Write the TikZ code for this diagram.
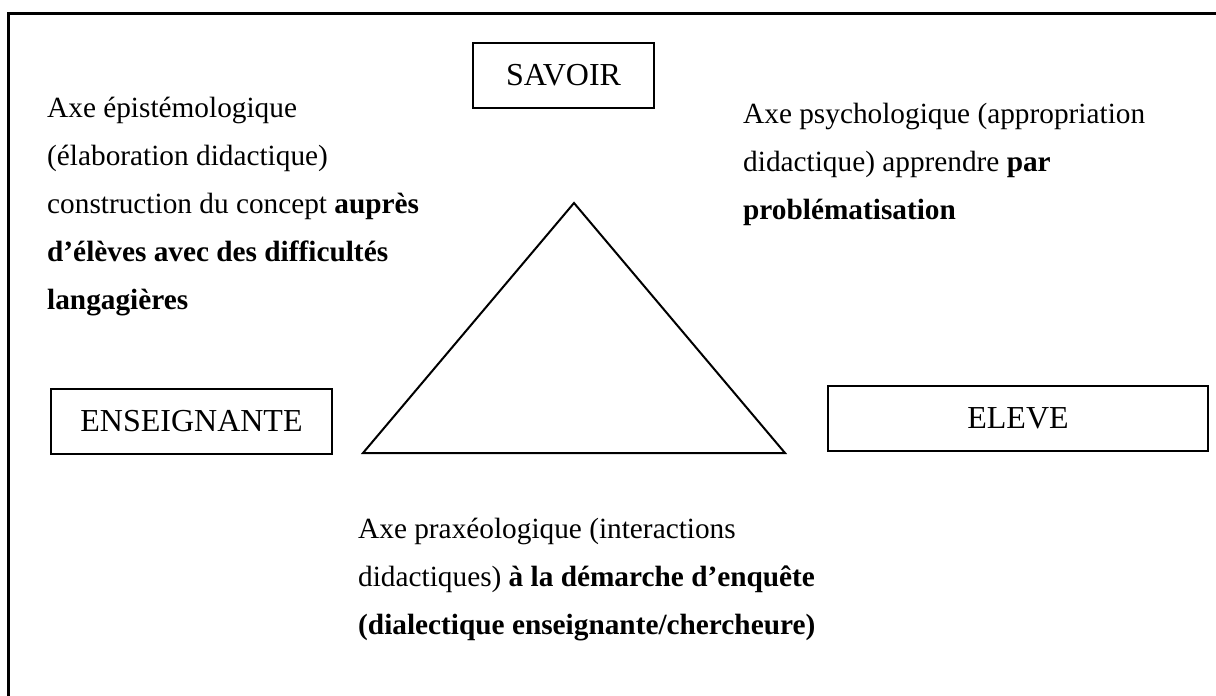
\documentclass[tikz,border=0pt]{standalone}
\usepackage{fontspec}
\setmainfont{Liberation Serif}
\usetikzlibrary{positioning}

\begin{document}
\begin{tikzpicture}[
    x=1pt, y=-1pt,
    pole/.style={draw, rectangle, line width=2pt, inner sep=0pt, font=\fontsize{32}{48}\selectfont},
    axis/.style={anchor=base west, align=left, inner sep=0pt, font=\fontsize{29.3}{48}\selectfont},
    side/.style={line width=2pt, line join=miter}
]
\useasboundingbox (0,0) rectangle (1216,696);

%-------------------------------------------------
% Frame
%-------------------------------------------------
\coordinate (frameBL) at (8.5,696);
\coordinate (frameTL) at (8.5,13);
\coordinate (frameTR) at (1216,13);
\draw[line width=3pt] (frameBL) -- (frameTL) -- (frameTR);

%-------------------------------------------------
% Poles
%-------------------------------------------------
\node[pole, minimum width=181, minimum height=65] (savoir)      at (563.5,75.5)  {SAVOIR};
\node[pole, minimum width=281, minimum height=65] (enseignante) at (191.5,421.5) {ENSEIGNANTE};
\node[pole, minimum width=380, minimum height=65] (eleve)       at (1018,418.5)  {ELEVE};

%-------------------------------------------------
% Triangle
%-------------------------------------------------
\coordinate (apex)  at (574,203);
\coordinate (baseL) at (363,453);
\coordinate (baseR) at (785,453);
\draw[side] (apex) -- (baseL) -- (baseR) -- cycle;

%-------------------------------------------------
% Axes (base = last line)
%-------------------------------------------------
\node[axis] (episteme) at (47,309)
{Axe épistémologique\\
(élaboration didactique)\\
construction du concept \textbf{auprès}\\
\textbf{d’élèves avec des difficultés}\\
\textbf{langagières}};

\node[axis] (psycho) at (743,219)
{Axe psychologique (appropriation\\
didactique) apprendre \textbf{par}\\
\textbf{problématisation}};

\node[axis] (praxis) at (358,634)
{Axe praxéologique (interactions\\
didactiques) \textbf{à la démarche d’enquête}\\
\textbf{(dialectique enseignante/chercheure)}};

\end{tikzpicture}
\end{document}
